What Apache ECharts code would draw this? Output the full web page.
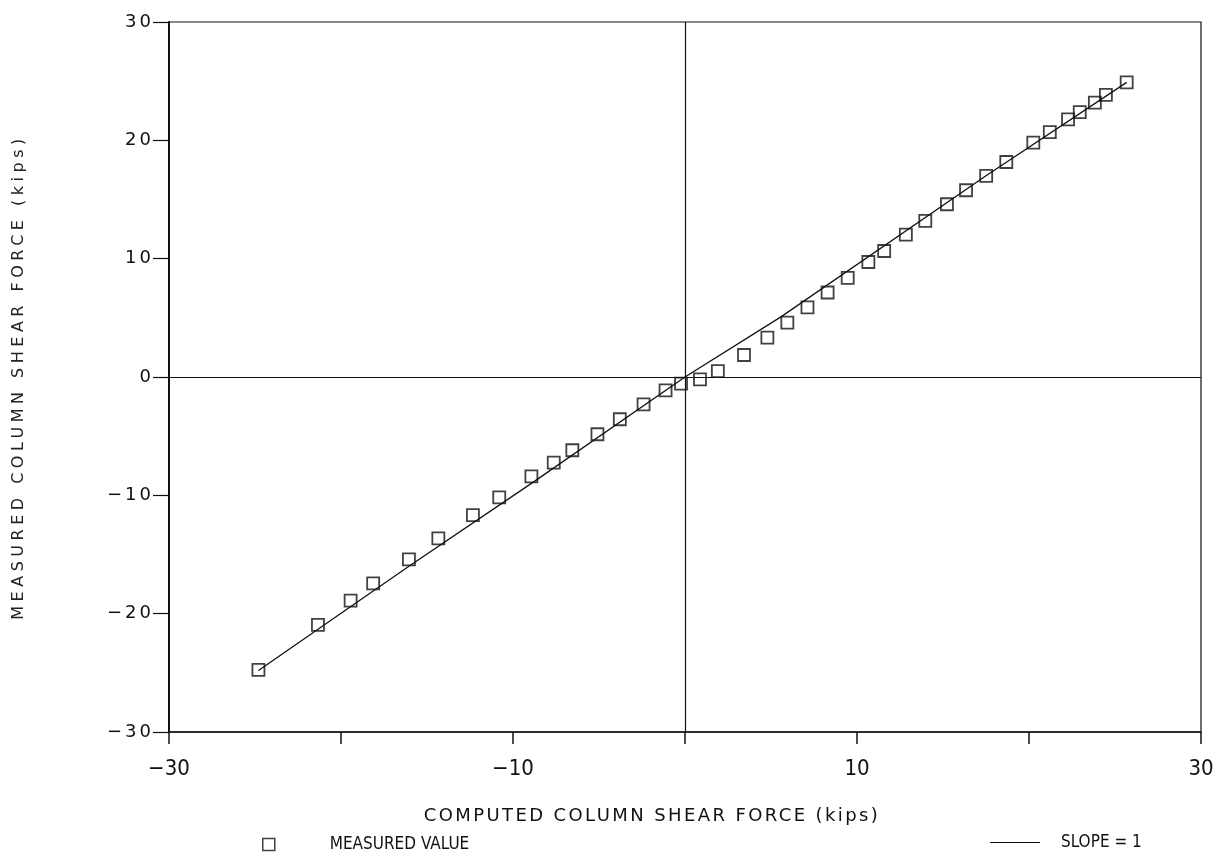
<!DOCTYPE html>
<html>
<head>
<meta charset="utf-8">
<script src="https://cdn.jsdelivr.net/npm/echarts@6/dist/echarts.min.js"></script>
<style>
html,body{margin:0;padding:0;background:#fff;}
#c{width:1225px;height:856px;}
</style>
</head>
<body>
<div id="c"></div>
<script>
// Measured values: [computed, measured] in kips
const measuredX = [-24.8, -21.34, -19.44, -18.13, -16.05, -14.34, -12.33, -10.80, -8.93, -7.63, -6.55, -5.09, -3.79, -2.41, -1.13, -0.23,
  0.87, 1.91, 3.43, 4.79, 5.95, 7.12, 8.29, 9.46, 10.66, 11.58, 12.84, 13.97, 15.23, 16.34, 17.51, 18.68, 20.25, 21.21, 22.27, 22.95, 23.83, 24.47, 25.68];
const measuredY = [-24.75, -20.95, -18.9, -17.44, -15.42, -13.64, -11.67, -10.18, -8.40, -7.23, -6.19, -4.84, -3.57, -2.31, -1.13, -0.56,
  -0.2, 0.5, 1.86, 3.33, 4.6, 5.89, 7.14, 8.37, 9.72, 10.65, 12.03, 13.2, 14.6, 15.78, 16.99, 18.17, 19.8, 20.7, 21.77, 22.39, 23.18, 23.85, 24.9];
// Slope = 1 reference line vertices
const slopeX = [-24.8, -16.05, -8.8, 0, 5.6, 17.5, 25.68];
const slopeY = [-24.8, -16.0, -8.86, 0, 5.1, 17.0, 24.9];
const xTickLabels = ['-30', '-10', '10', '30'];

const scatterData = measuredX.map((x, i) => [x, measuredY[i]]);
const lineData = slopeX.map((x, i) => [x, slopeY[i]]);

// letter spacing helper: a dummy family name "spcN" in a font stack sets N px letter spacing on canvas
(function () {
  const proto = CanvasRenderingContext2D.prototype;
  const d = Object.getOwnPropertyDescriptor(proto, 'font');
  if (!d || !('letterSpacing' in proto)) return;
  Object.defineProperty(proto, 'font', {
    configurable: true, enumerable: d.enumerable,
    get() { return d.get.call(this); },
    set(v) {
      d.set.call(this, v);
      const m = /spc(\d+(?:_\d+)?)/.exec(v);
      this.letterSpacing = m ? m[1].replace('_', '.') + 'px' : '0px';
    }
  });
})();

const narrowFont = "'Liberation Sans Narrow', 'DejaVu Sans Condensed', sans-serif";
const titleFont = "'DejaVu Sans', spc2_4, sans-serif";
const yTitleFont = "'DejaVu Sans', spc4_5, sans-serif";
const yLabelFont = "'DejaVu Sans', spc3, sans-serif";

const chart = echarts.init(document.getElementById('c'), null, {renderer: 'canvas'});
chart.setOption({
  backgroundColor: '#fff',
  animation: false,
  grid: {left: 169, right: 24, top: 22, bottom: 124, show: true, borderColor: '#111', borderWidth: 1.2, backgroundColor: 'transparent'},
  xAxis: {
    type: 'value', min: -30, max: 30, interval: 10,
    name: 'COMPUTED COLUMN SHEAR FORCE (kips)', nameLocation: 'middle', nameGap: 74,
    nameTextStyle: {fontFamily: titleFont, fontSize: 18, color: '#111', padding: [0, 66, 0, 0]},
    axisLine: {onZero: false, lineStyle: {color: '#111', width: 1.5}},
    axisTick: {show: true, inside: false, length: 12, lineStyle: {color: '#111', width: 1.5}},
    axisLabel: {margin: 26, fontFamily: narrowFont, fontSize: 22, color: '#111',
      formatter: v => { const s = String(Math.round(v)); return xTickLabels.indexOf(s) >= 0 ? s.replace('-', '\u2212') : ''; }},
    splitLine: {show: false}
  },
  yAxis: {
    type: 'value', min: -30, max: 30, interval: 10,
    name: 'MEASURED COLUMN SHEAR FORCE (kips)', nameLocation: 'middle', nameGap: 140,
    nameTextStyle: {fontFamily: yTitleFont, fontSize: 16, color: '#222'},
    axisLine: {onZero: false, lineStyle: {color: '#111', width: 2}},
    axisTick: {show: true, inside: false, length: 16, lineStyle: {color: '#111', width: 1.2}},
    axisLabel: {margin: 15, fontFamily: yLabelFont, fontSize: 18, color: '#111',
      formatter: v => String(v).replace('-', '\u2212')},
    splitLine: {show: false}
  },
  legend: [
    {left: 257, top: 831, itemWidth: 12, itemHeight: 12, selectedMode: false,
      data: [{name: 'MEASURED VALUE', icon: 'rect', itemStyle: {color: '#fff', borderColor: '#111', borderWidth: 1.5}}],
      textStyle: {fontFamily: narrowFont, fontSize: 17, color: '#111', padding: [0, 0, 0, 50]}},
    {left: 985, top: 829, itemWidth: 50, itemHeight: 14, selectedMode: false,
      data: [{name: 'SLOPE = 1', icon: 'path://M0,7 L50,7 L50,8 L0,8 Z', itemStyle: {color: '#111'}}],
      textStyle: {fontFamily: narrowFont, fontSize: 17, color: '#111', padding: [0, 0, 0, 16]}}
  ],
  series: [
    {
      name: 'SLOPE = 1', type: 'line', data: lineData, showSymbol: false, symbol: 'none',
      lineStyle: {color: '#111', width: 1.3}, z: 2,
      markLine: {silent: true, symbol: 'none', label: {show: false},
        lineStyle: {color: '#111', width: 1.2, type: 'solid'},
        data: [{xAxis: 0}, {yAxis: 0}]}
    },
    {
      name: 'MEASURED VALUE', type: 'scatter', data: scatterData, symbol: 'rect', symbolSize: 12,
      itemStyle: {color: 'rgba(255,255,255,0)', borderColor: '#111', borderWidth: 1.8}, z: 3
    }
  ]
});
</script>
</body>
</html>
